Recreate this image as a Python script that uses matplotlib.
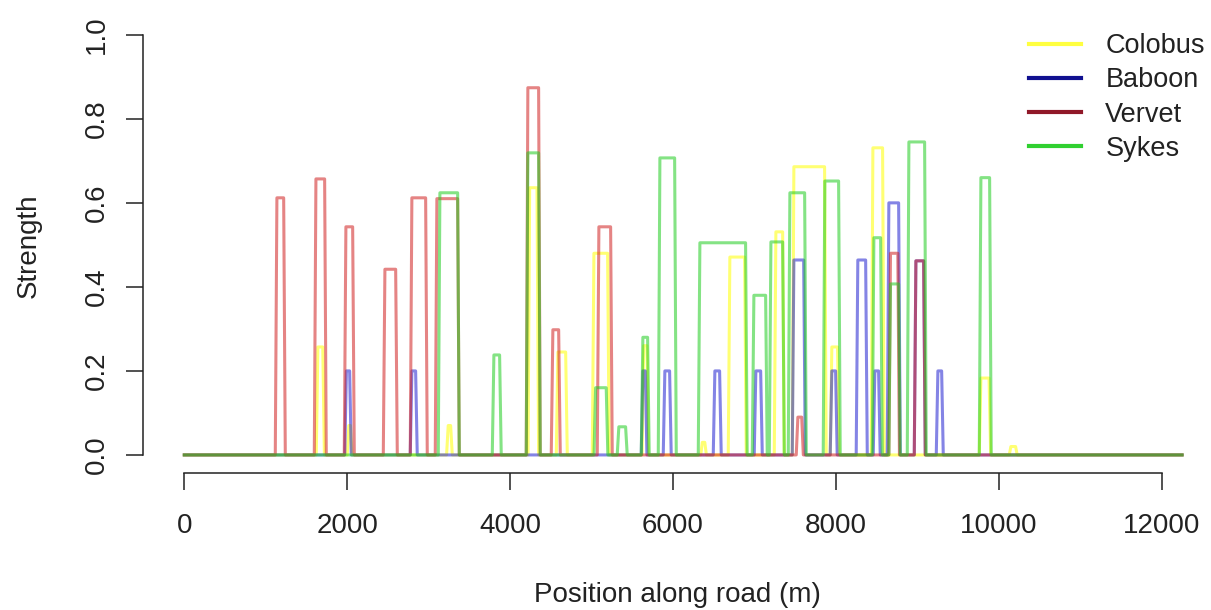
import matplotlib
matplotlib.use("Agg")
import matplotlib.pyplot as plt
from matplotlib.lines import Line2D

plt.rcParams['font.family'] = ['Liberation Sans', 'DejaVu Sans']

# road length and x ticks
road_end = 12250
x_ticks = [0, 2000, 4000, 6000, 8000, 10000, 12000]
y_ticks = [0.0, 0.2, 0.4, 0.6, 0.8, 1.0]

# each species: start (m), end (m), strength of each detection window
colobus_start = [1620, 2000, 3220, 4220, 4567, 5009, 5620, 6340, 6678, 7243, 7464, 7930, 8434, 9760, 10128]
colobus_end = [1720, 2060, 3290, 4350, 4702, 5217, 5700, 6410, 6899, 7366, 7881, 8040, 8593, 9900, 10226]
colobus_height = [0.257, 0.07, 0.07, 0.636, 0.245, 0.48, 0.26, 0.03, 0.471, 0.531, 0.686, 0.257, 0.731, 0.183, 0.02]

baboon_start = [1970, 2774, 5610, 5880, 6494, 6997, 7464, 7930, 8249, 8458, 8630, 8962, 9232]
baboon_end = [2050, 2860, 5680, 5978, 6592, 7096, 7624, 8016, 8385, 8544, 8790, 9097, 9318]
baboon_height = [0.2, 0.2, 0.2, 0.2, 0.2, 0.2, 0.464, 0.2, 0.464, 0.2, 0.6, 0.462, 0.2]

vervet_start = [1117, 1596, 1964, 2443, 2774, 3081, 4198, 4505, 5070, 7513, 8650, 8962]
vervet_end = [1240, 1743, 2087, 2615, 2983, 3376, 4370, 4616, 5254, 7600, 8780, 9097]
vervet_height = [0.612, 0.657, 0.543, 0.442, 0.612, 0.61, 0.874, 0.298, 0.543, 0.09, 0.48, 0.462]

sykes_start = [3118, 3781, 4198, 5030, 5315, 5610, 5819, 6310, 6973, 7182, 7415, 7844, 8446, 8650, 8876, 9760]
sykes_end = [3376, 3891, 4370, 5200, 5438, 5708, 6040, 6911, 7157, 7366, 7636, 8053, 8569, 8790, 9109, 9907]
sykes_height = [0.624, 0.238, 0.719, 0.16, 0.067, 0.28, 0.707, 0.505, 0.38, 0.507, 0.624, 0.652, 0.517, 0.407, 0.745, 0.66]

species = ["Colobus", "Baboon", "Vervet", "Sykes"]
line_cols = ["#ffff00", "#2020d0", "#d02020", "#20cc20"]
legend_cols = ["#ffff40", "#101090", "#901828", "#30d030"]


def profile(starts, ends, heights, ramp=20):
    # step profile along the road, with very steep sides
    xs, ys = [0], [0]
    for s, e, h in sorted(zip(starts, ends, heights)):
        xs += [s, s + ramp, e - ramp, e]
        ys += [0, h, h, 0]
    xs.append(road_end)
    ys.append(0)
    return xs, ys


fig = plt.figure(figsize=(12.11, 6.10), dpi=100)
ax = fig.add_axes([143 / 1211, (610 - 473) / 610, (1211 - 143) / 1211, (473 - 18) / 610])

series = [
    (colobus_start, colobus_end, colobus_height),
    (baboon_start, baboon_end, baboon_height),
    (vervet_start, vervet_end, vervet_height),
    (sykes_start, sykes_end, sykes_height),
]
for (s, e, h), col in zip(series, line_cols):
    xs, ys = profile(s, e, h)
    ax.plot(xs, ys, color=col, alpha=0.55, lw=2.2, solid_joinstyle="round")

ax.set_xlim(-507, 12605)
ax.set_ylim(-0.043, 1.04)

for side in ["top", "right"]:
    ax.spines[side].set_visible(False)
ax.spines["left"].set_bounds(0, 1)
ax.spines["bottom"].set_bounds(0, 12000)
for side in ["left", "bottom"]:
    ax.spines[side].set_color("#222222")
    ax.spines[side].set_linewidth(1.1)

ax.set_xticks(x_ticks)
ax.set_xticklabels([str(t) for t in x_ticks])
ax.set_yticks(y_ticks)
ax.set_yticklabels([f"{t:.1f}" for t in y_ticks], rotation=90, va="center")
ax.tick_params(axis="both", length=12, width=1.1, color="#222222",
               labelsize=20, labelcolor="#222222")
ax.tick_params(axis="x", pad=17)
ax.tick_params(axis="y", pad=12)

ax.set_xlabel("Position along road (m)", fontsize=20, color="#222222", labelpad=31)
ax.set_ylabel("Strength", fontsize=20, color="#222222", labelpad=30)

handles = [Line2D([], [], color=c, lw=3) for c in legend_cols]
ax.legend(handles, species, loc="upper right", bbox_to_anchor=(1.017, 1.02),
          frameon=False, fontsize=19.5, handlelength=1.9, handletextpad=0.9,
          labelspacing=0.3, labelcolor="#222222")

fig.savefig("out.png", dpi=100)
